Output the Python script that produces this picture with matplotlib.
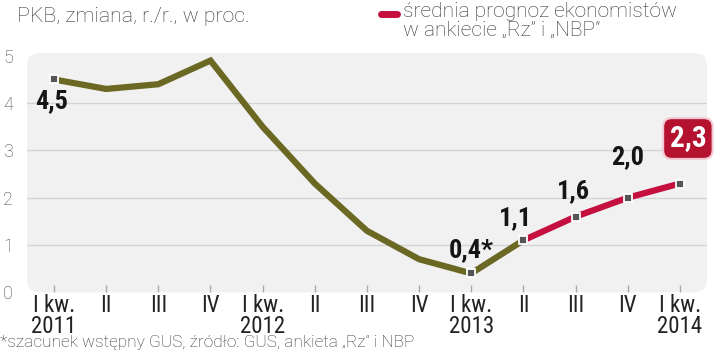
import matplotlib
matplotlib.use('Agg')
import matplotlib.pyplot as plt
from matplotlib import font_manager
from matplotlib.patches import FancyBboxPatch

quarters = ['I kw.\n2011', 'II', 'III', 'IV', 'I kw.\n2012', 'II', 'III', 'IV',
            'I kw.\n2013', 'II', 'III', 'IV', 'I kw.\n2014']
gdp = [4.5, 4.3, 4.4, 4.9, 3.5, 2.3, 1.3, 0.7, 0.4, 1.1]
forecast = [1.1, 1.6, 2.0, 2.3]
point_labels = ['4,5', '0,4*', '1,1', '1,6', '2,0']
yticks = [0, 1, 2, 3, 4, 5]

olive = '#6b6824'
red = '#c5103f'

# pick a narrow face if one is installed
names = sorted({f.name for f in font_manager.fontManager.ttflist})
narrow_name = None
for cand in ['Liberation Sans Narrow', 'DejaVu Sans Condensed', 'Roboto Condensed',
             'Open Sans Condensed', 'Noto Sans Condensed']:
    if cand in names:
        narrow_name = cand
        break
narrow = [narrow_name, 'DejaVu Sans'] if narrow_name else ['DejaVu Sans']
light = ['Roboto', 'DejaVu Sans']

W, H = 720, 353
fig = plt.figure(figsize=(W / 100, H / 100), dpi=100)
ax = fig.add_axes([27 / W, 1 - 292.3 / H, 680 / W, (292.3 - 53) / H])
ax.patch.set_visible(False)

# rounded gray panel
panel = FancyBboxPatch((27 / W, 1 - 292.3 / H), 680 / W, (292.3 - 53) / H,
                       boxstyle='round,pad=0,rounding_size=0.018',
                       mutation_aspect=W / H, transform=fig.transFigure,
                       facecolor='#f1f1f1', edgecolor='none', zorder=0, clip_on=False)
ax.add_patch(panel)

x_all = list(range(len(quarters)))
x_gdp = x_all[:len(gdp)]
x_fc = x_all[len(gdp) - 1:]

for yv in [1, 2, 3, 4]:
    ax.axhline(yv, color='#d4d4d4', lw=1, zorder=1)

ax.plot(x_gdp, gdp, color=olive, lw=4.5, solid_joinstyle='miter', zorder=3)
ax.plot(x_fc, forecast, color=red, lw=4.5, zorder=3)

mk = dict(marker='s', ms=5.5, mfc='#555555', mec='white', mew=1.3, ls='none', zorder=4)
ax.plot([x_gdp[0], x_gdp[8]], [gdp[0], gdp[8]], **mk)
ax.plot(x_fc, forecast, **mk)

# value labels
lab_pts = [(x_gdp[0], gdp[0]), (x_gdp[8], gdp[8]), (x_fc[0], forecast[0]),
           (x_fc[1], forecast[1]), (x_fc[2], forecast[2])]
offsets = [(-2, -22), (0, 23), (-8, 22), (-2, 25), (0, 41)]
for (xv, yv), txt, off in zip(lab_pts, point_labels, offsets):
    ax.annotate(txt, (xv, yv), xytext=off, textcoords='offset pixels',
                ha='center', va='center', fontsize=19, fontweight='bold',
                family=narrow, color='#151515', zorder=5)

ax.annotate('2,3', (x_fc[3], forecast[3]), xytext=(8, 45), textcoords='offset pixels',
            ha='center', va='center', fontsize=21, fontweight='bold',
            family=narrow, color='white', zorder=6,
            bbox=dict(boxstyle='round,pad=0.22,rounding_size=0.3',
                      fc='#b5122f', ec='#f3c9d2', lw=1.5))

ax.set_xlim(-0.518, 12.52)
ax.set_ylim(0, 5.06)
ax.set_xticks(x_all)
ax.set_xticklabels(quarters, family=narrow, fontsize=16.5, color='#222222',
                   linespacing=0.92)
ax.set_yticks(yticks)
ax.set_yticklabels([str(v) for v in yticks], family=light, fontsize=13,
                   color='#4a4a4a', fontweight='light')
ax.tick_params(axis='x', direction='in', length=5, width=1, color='#aaaaaa', pad=1)
ax.tick_params(axis='y', length=0, pad=10)
for s in ax.spines.values():
    s.set_visible(False)

fig.text(17 / W, 1 - 17 / H, 'PKB, zmiana, r./r., w proc.', ha='left', va='center',
         family=light, fontweight='light', fontsize=15.3, color='#333333')

fig.add_artist(plt.Line2D([381 / W, 397 / W], [1 - 14 / H, 1 - 14 / H],
                          color=red, lw=5, solid_capstyle='round',
                          transform=fig.transFigure))
fig.text(403 / W, 1 - 2 / H, 'średnia prognoz ekonomistów\nw ankiecie \u201eRz\u201d i \u201eNBP\u201d',
         ha='left', va='top', family=light, fontweight='light', fontsize=15.1,
         color='#333333', linespacing=1.0)

fig.text(0, 1 - 342 / H, '*szacunek wstępny GUS, źródło: GUS, ankieta \u201eRz\u201d i NBP',
         ha='left', va='center', family=light, fontweight='light', fontsize=12.4,
         color='#333333')

fig.savefig('out.png', dpi=100)
